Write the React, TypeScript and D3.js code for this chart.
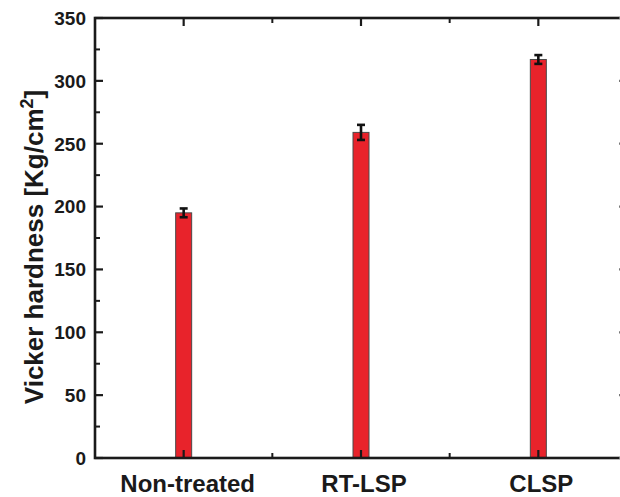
import React from "react";
import * as d3 from "d3";

const categories = ["Non-treated", "RT-LSP", "CLSP"];
const hardness = [195, 259, 317];
const errors = [3.5, 6, 3.5];
const yTicks = [0, 50, 100, 150, 200, 250, 300, 350];
const yMinorTicks = [25, 75, 125, 175, 225, 275, 325];

export default function App() {
  const W = 620, H = 497;
  const left = 95, top = 18, bottom = 458, right = 627;
  const x = d3.scaleLinear().domain([0.5, 3.5]).range([left, right]);
  const y = d3.scaleLinear().domain([0, 350]).range([bottom, top]);
  const barW = 16;
  const font = "'Liberation Sans', Arial, sans-serif";
  const ink = "#1a1a1a";
  const xMinor = [1.5, 2.5];

  return (
    <svg width={W} height={H} style={{ position: "absolute", left: 0, top: 0, background: "#fff" }}>
      {hardness.map((v, i) => (
        <rect key={"b" + i} x={x(i + 1) - barW / 2} y={y(v)} width={barW} height={y(0) - y(v)}
          fill="#e8232b" stroke="#4a4a4a" strokeWidth={1} />
      ))}
      {hardness.map((v, i) => {
        const cx = x(i + 1);
        const e = errors[i];
        return (
          <g key={"e" + i} stroke="#111" strokeWidth={2.6}>
            <line x1={cx} x2={cx} y1={y(v - e)} y2={y(v + e)} />
            <line x1={cx - 4} x2={cx + 4} y1={y(v - e)} y2={y(v - e)} />
            <line x1={cx - 4} x2={cx + 4} y1={y(v + e)} y2={y(v + e)} />
          </g>
        );
      })}
      <rect x={left} y={top} width={right - left} height={bottom - top} fill="none" stroke={ink} strokeWidth={2.6} />
      {yTicks.map((t) => (
        <g key={"yt" + t} stroke={ink} strokeWidth={2.2}>
          <line x1={left} x2={left + 8} y1={y(t)} y2={y(t)} />
          <line x1={right} x2={right - 8} y1={y(t)} y2={y(t)} stroke="#777" />
        </g>
      ))}
      {yMinorTicks.map((t) => (
        <g key={"ym" + t} stroke={ink} strokeWidth={2}>
          <line x1={left} x2={left + 5} y1={y(t)} y2={y(t)} />
          <line x1={right} x2={right - 5} y1={y(t)} y2={y(t)} stroke="#999" />
        </g>
      ))}
      {categories.map((c, i) => (
        <g key={"xt" + i} stroke={ink} strokeWidth={2.2}>
          <line x1={x(i + 1)} x2={x(i + 1)} y1={bottom} y2={bottom - 8} />
          <line x1={x(i + 1)} x2={x(i + 1)} y1={top} y2={top + 8} />
        </g>
      ))}
      {xMinor.map((t) => (
        <g key={"xm" + t} stroke={ink} strokeWidth={2}>
          <line x1={x(t)} x2={x(t)} y1={bottom} y2={bottom - 5} />
          <line x1={x(t)} x2={x(t)} y1={top} y2={top + 5} />
        </g>
      ))}
      {yTicks.map((t) => (
        <text key={"yl" + t} x={86} y={y(t)} dy="0.36em" textAnchor="end" fontFamily={font}
          fontWeight="bold" fontSize={19} fill={ink}>{t}</text>
      ))}
      {categories.map((c, i) => (
        <text key={"xl" + i} x={x(i + 1) + (i === 0 ? 4 : 3)} y={492} textAnchor="middle" fontFamily={font}
          fontWeight="bold" fontSize={24} fill={ink}>{c}</text>
      ))}
      <text transform="translate(43,247) rotate(-90)" textAnchor="middle" fontFamily={font}
        fontWeight="bold" fontSize={26} fill={ink}>
        Vicker hardness [Kg/cm<tspan dy={-10} fontSize={18}>2</tspan><tspan dy={10}>]</tspan>
      </text>
    </svg>
  );
}
